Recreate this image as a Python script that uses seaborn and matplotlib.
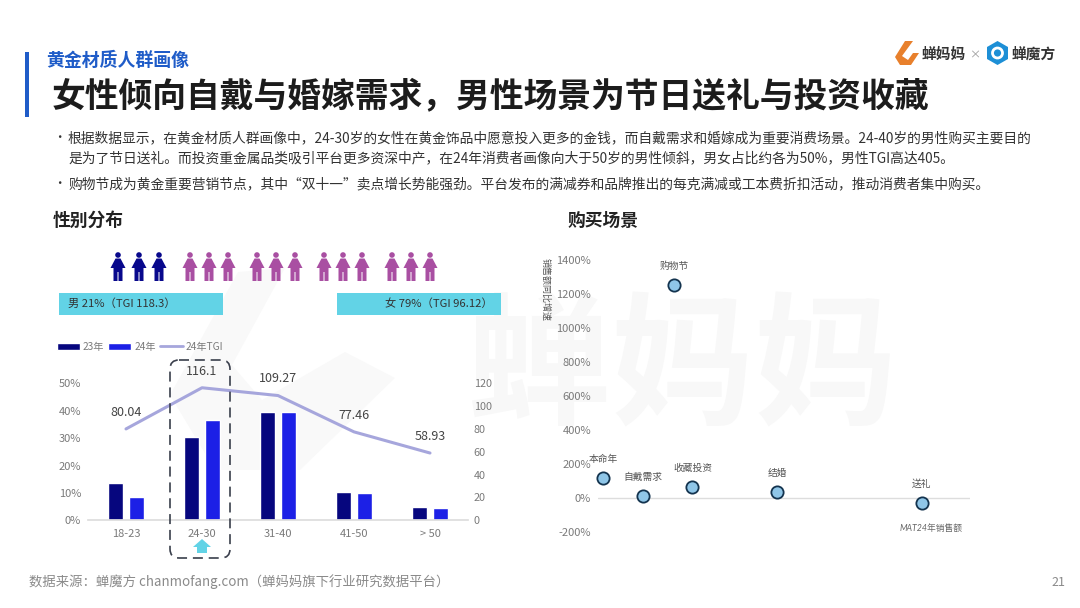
import matplotlib
matplotlib.use("Agg")
import matplotlib.pyplot as plt
from matplotlib.patches import Polygon, Circle, Rectangle, FancyBboxPatch
from matplotlib.lines import Line2D
import numpy as np
import pandas as pd
import seaborn as sns

sns.set_theme(style="white")
FONT = ['Noto Sans CJK SC', 'DejaVu Sans']
plt.rcParams['font.family'] = FONT
plt.rcParams['axes.unicode_minus'] = False

# ---- data ----
age_groups = ["18-23", "24-30", "31-40", "41-50", "> 50"]
share_23 = [13.5, 30.5, 39.5, 10.2, 5.0]
share_24 = [8.6, 36.6, 39.5, 9.9, 4.6]
tgi_24 = [80.04, 116.1, 109.27, 77.46, 58.93]
share_ticks = [0, 10, 20, 30, 40, 50]
tgi_ticks = [0, 20, 40, 60, 80, 100, 120]

scenes = ["本命年", "自戴需求", "收藏投资", "结婚", "送礼", "购物节"]
scene_sales = [0.7, 6.0, 12.7, 24.1, 43.5, 10.2]
scene_growth = [119, 12, 64, 37, -27, 1252]
growth_ticks = [-200, 0, 200, 400, 600, 800, 1000, 1200, 1400]

W, H = 1080, 608
NAVY, BLUE, LINE = "#06067e", "#1c20e6", "#a6a6dc"
CYAN = "#62d3e6"
TICK = "#7a7a7a"

fig = plt.figure(figsize=(W / 100, H / 100), dpi=100, facecolor="white")


def axes_px(x0, y0, x1, y1, **kw):
    return fig.add_axes([x0 / W, 1 - y1 / H, (x1 - x0) / W, (y1 - y0) / H], **kw)


# page layer in pixel coordinates
bg = axes_px(0, 0, W, H, zorder=0)
bg.set_xlim(0, W)
bg.set_ylim(H, 0)
bg.axis("off")

# watermark
bg.add_patch(Polygon([(238, 272), (285, 268), (232, 365), (262, 400), (345, 352), (395, 378),
                      (300, 470), (215, 470), (170, 395)], closed=True, fc="#f9f9f9", ec="none", zorder=0))
bg.text(683, 372, "蝉妈妈", fontsize=103, fontweight="bold", color="#f8f8f8",
        ha="center", va="center", zorder=0)

# header
bg.add_patch(Rectangle((25, 52), 3.5, 65, fc="#1f5cc8", ec="none"))
bg.text(46, 61, "黄金材质人群画像", fontsize=12.9, fontweight="bold", color="#1f5cc8", va="center")
bg.text(52, 96, "女性倾向自戴与婚嫁需求，男性场景为节日送礼与投资收藏", fontsize=24.35,
        fontweight="bold", color="#1c1c1c", va="center")

body_lines = [
    (138, "根据数据显示，在黄金材质人群画像中，24-30岁的女性在黄金饰品中愿意投入更多的金钱，而自戴需求和婚嫁成为重要消费场景。24-40岁的男性购买主要目的"),
    (158, "是为了节日送礼。而投资重金属品类吸引平台更多资深中产，在24年消费者画像向大于50岁的男性倾斜，男女占比约各为50%，男性TGI高达405。"),
    (184, "购物节成为黄金重要营销节点，其中“双十一”卖点增长势能强劲。平台发布的满减券和品牌推出的每克满减或工本费折扣活动，推动消费者集中购买。"),
]
for y, line in body_lines:
    bg.text(68, y, line, fontsize=9.92, color="#333333", va="center")
for y in (138, 184):
    bg.text(53, y, "•", fontsize=9, color="#333333", va="center", ha="left")

bg.text(53, 221, "性别分布", fontsize=12.8, fontweight="bold", color="#222222", va="center")
bg.text(567, 221, "购买场景", fontsize=12.8, fontweight="bold", color="#222222", va="center")

# logos
bg.add_patch(Polygon([(905, 41), (913, 41), (902, 56), (908, 60), (913, 53), (919, 53), (911, 65),
                      (900, 65), (895, 57)], closed=True, fc="#e8802c", ec="none"))
bg.text(922, 54, "蝉妈妈", fontsize=10.6, fontweight="bold", color="#333333", va="center")
bg.text(975, 55, "×", fontsize=8, color="#999999", va="center", ha="center")
hexa = [(997.5, 41), (1008, 47), (1008, 59), (997.5, 65), (987, 59), (987, 47)]
bg.add_patch(Polygon(hexa, closed=True, fc="#1d8fd6", ec="none"))
bg.add_patch(Circle((997.5, 53), 5, fc="none", ec="white", lw=2))
bg.text(1012, 54, "蝉魔方", fontsize=10.6, fontweight="bold", color="#333333", va="center")

# footer
bg.text(29, 582, "数据来源：蝉魔方 chanmofang.com（蝉妈妈旗下行业研究数据平台）", fontsize=9.6,
        color="#8a8a8a", va="center")
bg.text(1051, 582, "21", fontsize=9, color="#8a8a8a", va="center")

# people icons
person = np.array([(-2.5, 6.5), (2.5, 6.5), (7.5, 16), (4.5, 16), (4.5, 29), (0.5, 29), (0.5, 20),
                   (-0.5, 20), (-0.5, 29), (-4.5, 29), (-4.5, 16), (-7.5, 16)])


def draw_person(cx, top, color):
    bg.add_patch(Polygon(person + [cx, top], closed=True, fc=color, ec="none"))
    bg.add_patch(Circle((cx, top + 3), 2.8, fc=color, ec="none"))


for cx in (118, 139, 159):
    draw_person(cx, 252, "#08088c")
for start in (190, 257, 324, 392):
    for k in range(3):
        draw_person(start + k * 19, 252, "#a94fa2")

# gender boxes
bg.add_patch(Rectangle((59, 293), 164, 22, fc=CYAN, ec="none"))
bg.add_patch(Rectangle((337, 293), 164, 22, fc=CYAN, ec="none"))
bg.text(68, 304, "男 21%（TGI 118.3）", fontsize=8.1, color="#333333", va="center")
bg.text(385, 304, "女 79%（TGI 96.12）", fontsize=8.1, color="#333333", va="center")

# ---- left chart ----
ax = axes_px(88, 383.3, 468, 520.3, zorder=2)
ax.patch.set_alpha(0)
long_df = pd.DataFrame({
    "age": age_groups * 2,
    "share": share_23 + share_24,
    "year": ["23年"] * 5 + ["24年"] * 5,
})
sns.barplot(data=long_df, x="age", y="share", hue="year", order=age_groups,
            palette={"23年": NAVY, "24年": BLUE}, width=0.552, gap=0.24,
            saturation=1, legend=False, ax=ax)
ax.set_xlim(-0.5, 4.5)
ax.set_ylim(0, 50)
ax.set_yticks(share_ticks)
ax.set_yticklabels([f"{v}%" for v in share_ticks])
ax.set_xlabel("")
ax.set_ylabel("")
ax.tick_params(axis="x", length=0, labelsize=8, labelcolor=TICK, pad=6)
ax.tick_params(axis="y", length=0, labelsize=8, labelcolor=TICK, pad=5)
sns.despine(ax=ax, left=True)
ax.spines["bottom"].set_color("#dddddd")

ax2 = ax.twinx()
ax2.patch.set_alpha(0)
sns.lineplot(x=np.arange(len(age_groups)), y=tgi_24, color=LINE, lw=2.2, ax=ax2)
ax2.set_ylim(0, 120)
ax2.set_yticks(tgi_ticks)
ax2.set_ylabel("")
ax2.tick_params(axis="y", length=0, labelsize=7.8, labelcolor=TICK, pad=4)
sns.despine(ax=ax2, left=True, right=True, bottom=True)
for i, v in enumerate(tgi_24):
    ax2.annotate(f"{v:g}", (i, v), xytext=(0, 12), textcoords="offset points", ha="center",
                 va="center", fontsize=9, color="#444444", annotation_clip=False)

handles = [Rectangle((0, 0), 1, 1, fc=NAVY), Rectangle((0, 0), 1, 1, fc=BLUE),
           Line2D([0], [0], color=LINE, lw=2)]
fig.legend(handles, ["23年", "24年", "24年TGI"], loc="center left",
           bbox_to_anchor=(57 / W, 1 - 347 / H), ncol=3, frameon=False, fontsize=7.3,
           labelcolor=TICK, handlelength=2.25, handleheight=0.7, handletextpad=0.3,
           columnspacing=0.4, borderpad=0, borderaxespad=0)

# highlight box and arrow
fg = axes_px(0, 0, W, H, zorder=5)
fg.set_xlim(0, W)
fg.set_ylim(H, 0)
fg.axis("off")
fg.add_patch(FancyBboxPatch((170, 360), 60, 198, boxstyle="round,pad=0,rounding_size=9", fc="none",
                            ec="#3a3f4c", lw=1.2, ls=(0, (6, 3.5))))
fg.add_patch(Polygon([(202, 539), (211, 547), (207, 547), (207, 553), (197, 553), (197, 547), (193, 547)],
                     closed=True, fc=CYAN, ec="none"))

# ---- right chart ----
rx = axes_px(598, 260, 970, 532.3, zorder=2)
rx.patch.set_alpha(0)
rx.axhline(0, color="#dddddd", lw=1, zorder=1)
sns.scatterplot(x=scene_sales, y=scene_growth, s=78, color="#8fc6e8", edgecolor="#14344f",
                linewidth=1.3, zorder=3, clip_on=False, ax=rx)
rx.set_xlim(0, 50)
rx.set_ylim(-200, 1400)
rx.set_yticks(growth_ticks)
rx.set_yticklabels([f"{v}%" for v in growth_ticks])
rx.set_xticks([])
rx.tick_params(axis="y", length=0, labelsize=8, labelcolor=TICK, pad=5)
sns.despine(ax=rx, left=True, bottom=True)
for name, xv, yv in zip(scenes, scene_sales, scene_growth):
    rx.annotate(name, (xv, yv), xytext=(0, 14), textcoords="offset points", ha="center", va="center",
                fontsize=7, color="#555555", annotation_clip=False)
bg.text(545, 290, "销售额同比增速", fontsize=6.5, color="#555555", rotation=270, ha="center", va="center")
bg.text(900, 528, "MAT24年销售额", fontsize=6.3, color="#666666", style="italic", va="center",
        family=['Lato', 'Noto Sans CJK SC'])

fig.savefig("out.png", dpi=100)
